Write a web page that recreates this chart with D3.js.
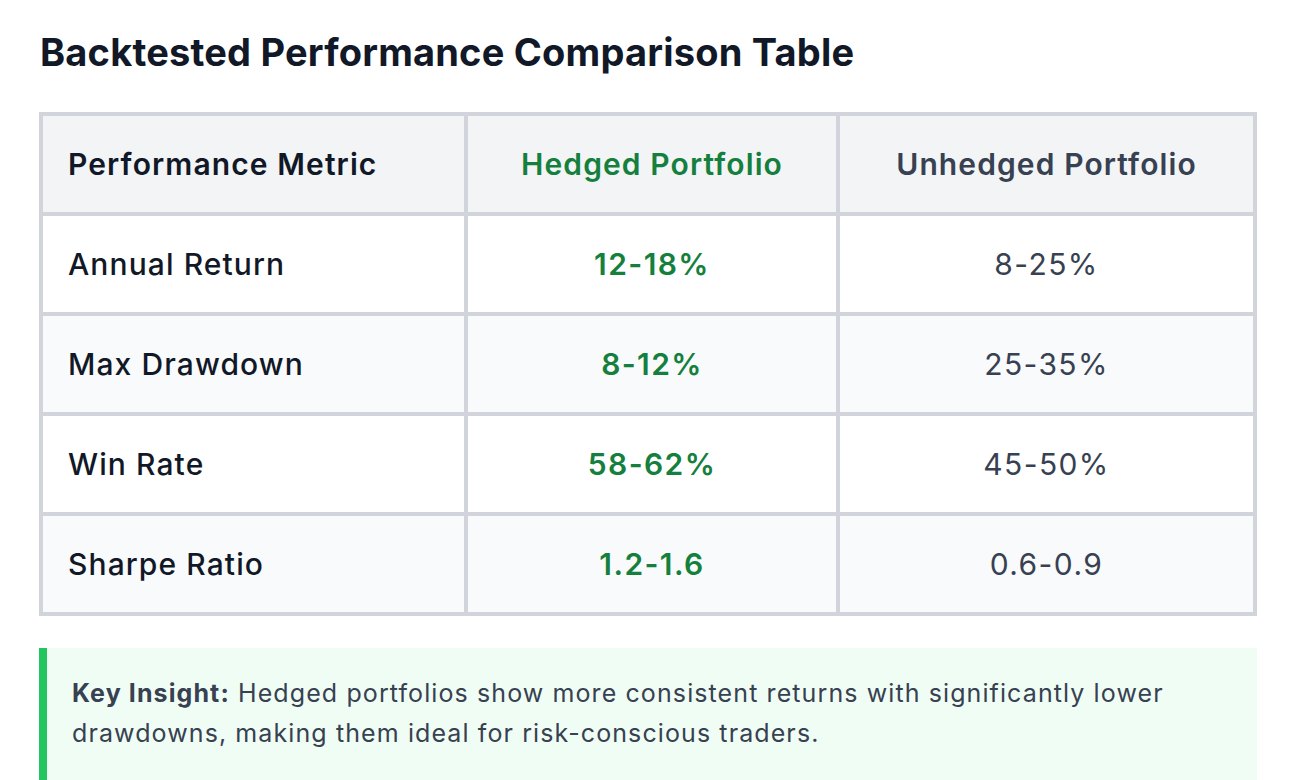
<!DOCTYPE html>
<html>
<head>
<meta charset="utf-8">
<script src="https://cdn.jsdelivr.net/npm/d3@7"></script>
<style>
  body { margin: 0; background: #fff; font-family: Inter, 'Noto Sans', sans-serif; }
</style>
</head>
<body>
<div id="chart"></div>
<script>
// table content
var title = 'Backtested Performance Comparison Table'
var columns = ['Performance Metric', 'Hedged Portfolio', 'Unhedged Portfolio']
var metrics = ['Annual Return', 'Max Drawdown', 'Win Rate', 'Sharpe Ratio']
var hedged = ['12-18%', '8-12%', '58-62%', '1.2-1.6']
var unhedged = ['8-25%', '25-35%', '45-50%', '0.6-0.9']
var insightLabel = 'Key Insight:'
var insightLines = [
	' Hedged portfolios show more consistent returns with significantly lower',
	'drawdowns, making them ideal for risk-conscious traders.'
]

var width = 1289
var height = 780

// column edges (line centres) of the table
var colEdges = [41, 466, 838, 1255]
var tableTop = 114, tableBottom = 614

var svg = d3.select('#chart')
	.append('svg')
	.attr('width', width)
	.attr('height', height)
	.attr('viewBox', [0, 0, width, height])

svg.append('text')
	.attr('x', 40)
	.attr('y', 66)
	.style('font-size', '38px')
	.style('font-weight', 700)
	.style('letter-spacing', '0.2px')
	.style('fill', '#111827')
	.text(title)

var rows = ['header'].concat(metrics)
var y = d3.scaleBand()
	.domain(rows)
	.range([tableTop, tableBottom])

var x = d3.scaleOrdinal()
	.domain(columns)
	.range(colEdges.slice(0, 3))

function colWidth(c) {
	var i = columns.indexOf(c)
	return colEdges[i + 1] - colEdges[i]
}

var rowFill = function (r, i) {
	if (r === 'header') return '#f3f4f6'
	return i % 2 === 1 ? '#ffffff' : '#f9fafb'
}

// backgrounds
svg.append('g')
	.selectAll('rect')
	.data(rows)
	.enter()
	.append('rect')
	.attr('x', colEdges[0])
	.attr('y', d => y(d))
	.attr('width', colEdges[3] - colEdges[0])
	.attr('height', y.bandwidth())
	.attr('fill', (d, i) => rowFill(d, i))

// grid lines
var grid = svg.append('g')
	.style('stroke', '#d1d5db')
	.style('stroke-width', 4)

grid.selectAll('line.h')
	.data(rows.map(r => y(r)).concat([tableBottom]))
	.enter()
	.append('line')
	.attr('class', 'h')
	.attr('x1', colEdges[0] - 2)
	.attr('x2', colEdges[3] + 2)
	.attr('y1', d => d)
	.attr('y2', d => d)

grid.selectAll('line.v')
	.data(colEdges)
	.enter()
	.append('line')
	.attr('class', 'v')
	.attr('x1', d => d)
	.attr('x2', d => d)
	.attr('y1', tableTop - 2)
	.attr('y2', tableBottom + 2)

var cellFont = '30px'
var cellSpacing = '1.1px'

// header labels
var headColors = ['#111827', '#15803d', '#374151']
svg.append('g')
	.selectAll('text')
	.data(columns)
	.enter()
	.append('text')
	.attr('x', (d, i) => i === 0 ? x(d) + 27 : x(d) + colWidth(d) / 2)
	.attr('y', y('header') + y.bandwidth() / 2 + 11)
	.attr('text-anchor', (d, i) => i === 0 ? 'start' : 'middle')
	.style('font-size', cellFont)
	.style('letter-spacing', cellSpacing)
	.style('font-weight', 600)
	.style('fill', (d, i) => headColors[i])
	.text(d => d)

// body cells
var cells = svg.append('g')

cells.selectAll('text.metric')
	.data(metrics)
	.enter()
	.append('text')
	.attr('class', 'metric')
	.attr('x', x(columns[0]) + 27)
	.attr('y', d => y(d) + y.bandwidth() / 2 + 11)
	.style('font-size', cellFont)
	.style('letter-spacing', cellSpacing)
	.style('font-weight', 500)
	.style('fill', '#111827')
	.text(d => d)

cells.selectAll('text.hedged')
	.data(hedged)
	.enter()
	.append('text')
	.attr('class', 'hedged')
	.attr('x', x(columns[1]) + colWidth(columns[1]) / 2)
	.attr('y', (d, i) => y(metrics[i]) + y.bandwidth() / 2 + 11)
	.attr('text-anchor', 'middle')
	.style('font-size', cellFont)
	.style('letter-spacing', '1.4px')
	.style('font-weight', 600)
	.style('fill', '#15803d')
	.text(d => d)

cells.selectAll('text.unhedged')
	.data(unhedged)
	.enter()
	.append('text')
	.attr('class', 'unhedged')
	.attr('x', x(columns[2]) + colWidth(columns[2]) / 2)
	.attr('y', (d, i) => y(metrics[i]) + y.bandwidth() / 2 + 11)
	.attr('text-anchor', 'middle')
	.style('font-size', cellFont)
	.style('letter-spacing', '1.4px')
	.style('font-weight', 400)
	.style('fill', '#374151')
	.text(d => d)

// insight box
var box = svg.append('g')
box.append('rect')
	.attr('x', 39)
	.attr('y', 648)
	.attr('width', 1257 - 39)
	.attr('height', 160)
	.attr('fill', '#f0fdf4')
box.append('rect')
	.attr('x', 39)
	.attr('y', 648)
	.attr('width', 8)
	.attr('height', 160)
	.attr('fill', '#22c55e')

var insight = box.append('text')
	.style('font-size', '25px')
	.style('letter-spacing', '1.1px')
	.style('fill', '#374151')

var first = insight.append('tspan')
	.attr('x', 72)
	.attr('y', 702)
first.append('tspan')
	.style('font-weight', 700)
	.text(insightLabel)
first.append('tspan')
	.text(insightLines[0])

insight.append('tspan')
	.attr('x', 72)
	.attr('y', 742)
	.text(insightLines[1])
</script>
</body>
</html>
